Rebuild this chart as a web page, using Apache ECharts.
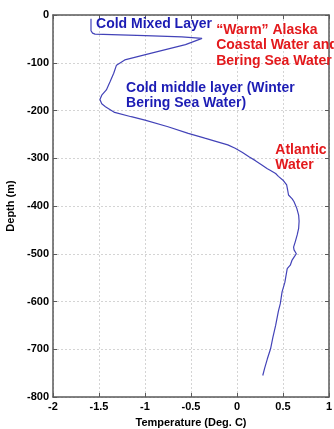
<!DOCTYPE html>
<html>
<head>
<meta charset="utf-8">
<script src="https://cdn.jsdelivr.net/npm/echarts@6/dist/echarts.min.js"></script>
<style>
  html, body { margin: 0; padding: 0; background: #fff; }
  #chart { width: 334px; height: 429px; }
</style>
</head>
<body>
<div id="chart"></div>
<script>
// Temperature profile (deg C) against depth (m)
const temperature = [
  -1.587, -1.587, -1.587, -1.57, -1.543, -1.0, -0.6, -0.38,
  -0.56, -0.93, -1.22, -1.31, -1.34, -1.38, -1.42, -1.47, -1.49, -1.47, -1.43,
  -1.33, -1.15, -1.0, -0.75, -0.53, -0.35, -0.24, -0.1, -0.02, 0.06, 0.13,
  0.2, 0.27, 0.33, 0.36, 0.42, 0.45, 0.5, 0.54, 0.55, 0.56, 0.6, 0.62,
  0.65, 0.67, 0.675, 0.67, 0.655, 0.633, 0.615, 0.62, 0.645, 0.62, 0.597,
  0.579, 0.546, 0.53, 0.52, 0.49, 0.478, 0.47, 0.45, 0.42, 0.39, 0.365,
  0.33, 0.3, 0.28
];
const depth = [
  -8, -20, -33, -38, -40, -43, -46, -49,
  -62, -80, -94, -105, -122, -140, -157, -168, -177, -186, -192,
  -204, -213, -220, -234, -248, -258, -264, -272, -279, -288, -297,
  -305, -314, -322, -325, -332, -338, -346, -356, -366, -377, -385, -391,
  -405, -419, -432, -447, -460, -475, -486, -492, -500, -507, -514,
  -524, -531, -549, -560, -580, -595, -605, -620, -650, -675, -699,
  -720, -740, -755
];

// Water mass annotations: text lines anchored at (temperature, depth)
const annotationText = [
  ['Cold Mixed Layer'],
  ['\u201CWarm\u201D Alaska', 'Coastal Water and', 'Bering Sea Water'],
  ['Cold middle layer (Winter', 'Bering Sea Water)'],
  ['Atlantic', 'Water']
];
const annotationT = [-1.532, -0.226, -1.206, 0.416];
const annotationD = [-19, -31, -153, -283];
const annotationColor = ['#1c1cb4', '#e3191c', '#1c1cb4', '#e3191c'];

const tempTicks = { min: -2, max: 1, interval: 0.5 };
const depthTicks = { min: -800, max: 0, interval: 100 };

const chart = echarts.init(document.getElementById('chart'), null, { renderer: 'canvas' });

const frameLine = { show: true, onZero: false, lineStyle: { color: '#5a5a5a', width: 1.5 } };
const innerTick = { show: true, inside: true, length: 4, lineStyle: { color: '#5a5a5a', width: 1 } };
const grid = { show: true, lineStyle: { color: '#d4d4d4', type: [2, 2], width: 1 } };
const tickFont = { color: '#000', fontWeight: 'bold', fontSize: 11, fontFamily: 'Liberation Sans, Arial, sans-serif' };

chart.setOption({
  animation: false,
  backgroundColor: '#fff',
  grid: { left: 53, right: 5, top: 15, bottom: 32, containLabel: false, outerBoundsMode: 'none' },
  xAxis: [
    {
      type: 'value', position: 'bottom',
      min: tempTicks.min, max: tempTicks.max, interval: tempTicks.interval,
      axisLine: frameLine, axisTick: innerTick, splitLine: grid,
      axisLabel: Object.assign({ margin: 4 }, tickFont),
      name: 'Temperature (Deg. C)', nameLocation: 'middle', nameGap: 20,
      nameTextStyle: tickFont
    },
    {
      type: 'value', position: 'top',
      min: tempTicks.min, max: tempTicks.max, interval: tempTicks.interval,
      axisLine: frameLine, axisTick: innerTick, axisLabel: { show: false }, splitLine: { show: false }
    }
  ],
  yAxis: [
    {
      type: 'value', position: 'left',
      min: depthTicks.min, max: depthTicks.max, interval: depthTicks.interval,
      axisLine: frameLine, axisTick: innerTick, splitLine: grid,
      axisLabel: Object.assign({ margin: 4 }, tickFont),
      name: 'Depth (m)', nameLocation: 'middle', nameGap: 30, nameRotate: 90,
      nameTextStyle: tickFont
    },
    {
      type: 'value', position: 'right',
      min: depthTicks.min, max: depthTicks.max, interval: depthTicks.interval,
      axisLine: frameLine, axisTick: innerTick, axisLabel: { show: false }, splitLine: { show: false }
    }
  ],
  series: [
    {
      type: 'line',
      data: temperature.map((t, i) => [t, depth[i]]),
      showSymbol: false,
      smooth: false,
      lineStyle: { color: '#4343b8', width: 1.2 },
      z: 3
    }
  ]
});

// Place the water-mass labels at their data positions
const lineHeight = 15.5;
const labels = [];
annotationText.forEach((lines, k) => {
  const p = chart.convertToPixel({ xAxisIndex: 0, yAxisIndex: 0 }, [annotationT[k], annotationD[k]]);
  lines.forEach((txt, j) => {
    labels.push({
      type: 'text',
      x: p[0], y: p[1] + j * lineHeight,
      z: 10,
      style: {
        text: txt,
        fill: annotationColor[k],
        font: 'bold 14px "Liberation Sans", Arial, sans-serif',
        textAlign: 'left',
        textVerticalAlign: 'middle'
      }
    });
  });
});
chart.setOption({ graphic: labels });
</script>
</body>
</html>
